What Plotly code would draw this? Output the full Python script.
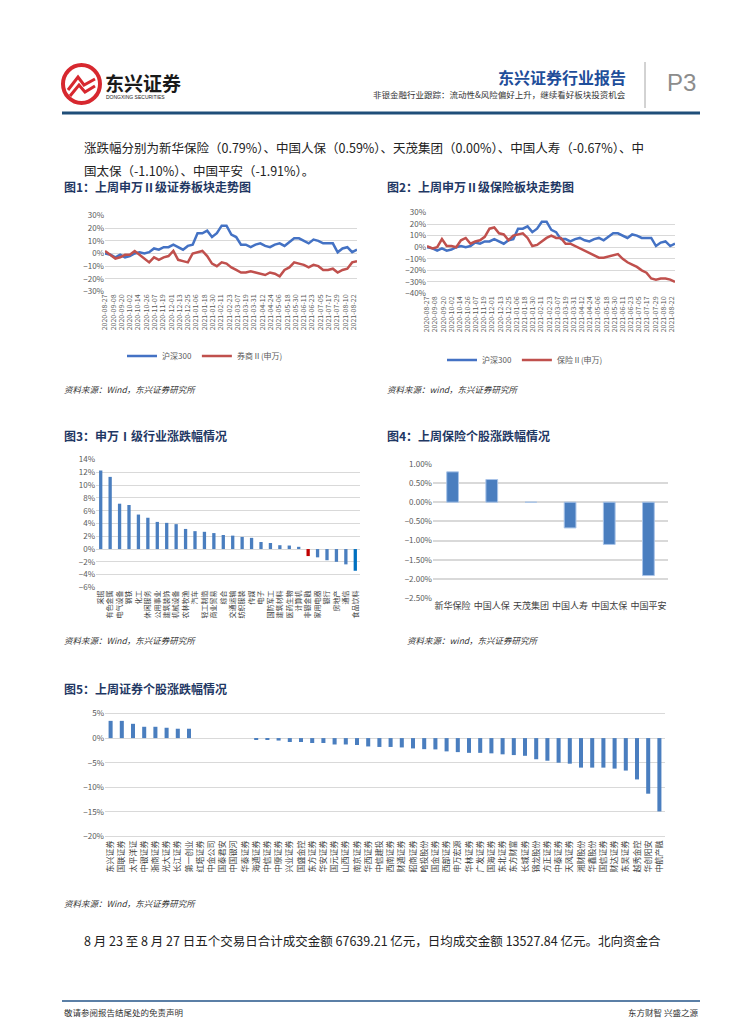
import plotly.graph_objects as go
import pandas as pd

W, H = 755, 1024
def px(x): return x / W
def py(y): return 1 - y / H

# ---------------- data ----------------
dates = ["2020-08-27"] + [d.strftime("%Y-%m-%d") for d in pd.date_range("2020-09-04", periods=52, freq="7D")]
hs300 = [0, -1, -3, -1, -3, -2, 0, 1, 0, 1,
         4, 3, 5, 5, 7, 5, 3, 6, 7, 16,
         16, 18, 13, 16, 22, 22, 15, 13, 7, 7,
         5, 7, 8, 6, 5, 7, 8, 6, 9, 12,
         12, 10, 8, 11, 10, 8, 8, 8, 1, 4,
         5, 1, 3]
quanshang = [2, -1, -4, -3, -1, -1, 2, -1, -4, -7,
             -3, -5, -3, -2, 2, -5, -6, -7, 0, 1,
             2, -2, -8, -10, -7, -8, -11, -13, -15, -15,
             -14, -15, -16, -17, -15, -16, -18, -13, -11, -7,
             -8, -9, -11, -9, -10, -13, -13, -12, -15, -13,
             -12, -7, -6]
baoxian = [1, -1, 0, 7, 1, 1, 0, 6, 8, 3,
           5, 6, 9, 16, 17, 12, 11, 6, 10, 11,
           12, 8, 1, 2, 5, 8, 10, 8, 8, 3,
           3, 1, -1, -3, -5, -7, -9, -9, -8, -7,
           -6, -10, -13, -15, -17, -20, -22, -27, -28, -27,
           -27, -28, -30]

ind_names = ["采掘", "有色金属", "电气设备", "钢铁", "化工", "休闲服务", "公用事业", "建筑装饰",
             "机械设备", "农林牧渔", "汽车", "轻工制造", "商业贸易", "综合", "交通运输", "纺织服装",
             "传媒", "电子", "国防军工", "建筑材料", "医药生物", "计算机", "非银金融", "家用电器",
             "银行", "房地产", "通信", "食品饮料"]
ind_vals = [12.3, 11.3, 7.1, 6.9, 5.4, 4.9, 4.25, 4.1, 3.9, 3.15, 2.8, 2.7, 2.5, 2.2, 2.1, 1.9,
            1.75, 1.1, 0.95, 0.6, 0.55, 0.35, -1.1, -1.3, -1.75, -2.0, -2.4, -3.4]

ins_names = ["新华保险", "中国人保", "天茂集团", "中国人寿", "中国太保", "中国平安"]
ins_vals = [0.79, 0.59, 0.00, -0.67, -1.10, -1.91]

sec_names = ["东兴证券", "国联证券", "太平洋证", "中银证券", "浙商证券", "光大证券", "长江证券", "第一创业",
             "红塔证券", "中金公司", "国泰君安", "中国银河", "华泰证券", "海通证券", "中信证券", "中原证券",
             "兴业证券", "国盛金控", "东方证券", "华安证券", "国元证券", "山西证券", "南京证券", "华西证券",
             "中信建投", "西南证券", "财通证券", "招商证券", "哈投股份", "国金证券", "西部证券", "申万宏源",
             "华林证券", "广发证券", "国海证券", "东北证券", "东方财富", "长城证券", "锦龙股份", "方正证券",
             "中泰证券", "天风证券", "湘财股份", "华鑫股份", "国信证券", "财达证券", "东吴证券", "越秀金控",
             "华创阳安", "中航产融"]
sec_vals = [3.5, 3.5, 2.9, 2.3, 2.3, 2.1, 1.9, 1.9,
            0, 0, 0, 0, 0,
            -0.2, -0.2, -0.5, -0.8, -0.8, -1.0, -1.0, -1.3, -1.3, -1.4, -1.7, -1.8, -1.8,
            -1.9, -2.1, -2.25, -2.3, -2.7, -2.85, -3.0, -3.0, -3.1, -3.3, -3.45, -3.6, -4.3, -4.6,
            -5.0, -5.2, -6.0, -6.0, -6.0, -6.2, -6.6, -8.4, -11.3, -14.9]

# ---------------- styles ----------------
BLUE = "#4472C4"
RED = "#C0504D"
BAR = "#4A7EBF"
GRID = "#D9D9D9"
TICK = "#595959"
TITLE = "#1F3864"
FONT = "Noto Sans CJK SC"

fig = go.Figure()

# chart 1
fig.add_trace(go.Scatter(x=dates, y=hs300, mode="lines", name="沪深300",
                         line=dict(color=BLUE, width=2.5), xaxis="x", yaxis="y", legend="legend"))
fig.add_trace(go.Scatter(x=dates, y=quanshang, mode="lines", name="券商Ⅱ(申万)",
                         line=dict(color=RED, width=2.5), xaxis="x", yaxis="y", legend="legend"))
# chart 2
fig.add_trace(go.Scatter(x=dates, y=hs300, mode="lines", name="沪深300",
                         line=dict(color=BLUE, width=2.5), xaxis="x2", yaxis="y2", legend="legend2"))
fig.add_trace(go.Scatter(x=dates, y=baoxian, mode="lines", name="保险Ⅱ(申万)",
                         line=dict(color=RED, width=2.5), xaxis="x2", yaxis="y2", legend="legend2"))
# chart 3
ind_colors = [BAR] * len(ind_names)
ind_colors[ind_names.index("非银金融")] = "#C00000"
ind_colors[-1] = "#0070C0"
fig.add_trace(go.Bar(x=ind_names, y=ind_vals, marker=dict(color=ind_colors, line=dict(width=0)), width=0.35,
                     xaxis="x3", yaxis="y3", showlegend=False))
# chart 4
fig.add_trace(go.Bar(x=ins_names, y=ins_vals, marker=dict(color=BAR, line=dict(color="#A9C4E8", width=1)),
                     width=0.3, xaxis="x4", yaxis="y4", showlegend=False))
# chart 5
fig.add_trace(go.Bar(x=sec_names, y=sec_vals, marker=dict(color=BAR, line=dict(width=0)), width=0.36,
                     xaxis="x5", yaxis="y5", showlegend=False))

date_x = dict(type="date", range=["2020-08-27", "2021-08-27"], tick0="2020-08-27",
              dtick=12 * 86400000, tickformat="%Y-%m-%d", tickangle=-90,
              tickfont=dict(size=7, color=TICK), showgrid=False, showline=False,
              zeroline=False, ticks="", automargin=False)
def yax(**kw):
    d = dict(showgrid=True, gridcolor=GRID, gridwidth=1, zeroline=False, showline=False,
             ticks="", tickfont=dict(size=8, color=TICK), automargin=False)
    d.update(kw)
    return d
cat_x = dict(type="category", showgrid=False, showline=False, zeroline=False, ticks="", automargin=False)

fig.update_layout(
    template="none",
    width=W, height=H, autosize=False,
    margin=dict(l=0, r=0, t=0, b=0, pad=0),
    paper_bgcolor="white", plot_bgcolor="white",
    font=dict(family=FONT, color="#333"),
    xaxis=dict(date_x, domain=[px(105), px(357)], anchor="y"),
    yaxis=yax(domain=[py(292), py(215)], anchor="x", range=[-30.4, 30.4], dtick=10, ticksuffix="%"),
    xaxis2=dict(date_x, domain=[px(427), px(675)], anchor="y2"),
    yaxis2=yax(domain=[py(294), py(212)], anchor="x2", range=[-40.4, 30.4], dtick=10, ticksuffix="%"),
    xaxis3=dict(cat_x, domain=[px(96), px(360)], anchor="y3", tickangle=-90,
                tickfont=dict(size=7, color="#404040")),
    yaxis3=yax(domain=[py(588), py(459)], anchor="x3", range=[-6.1, 14.1], dtick=2, ticksuffix="%"),
    xaxis4=dict(cat_x, domain=[px(433), px(668)], anchor="y4", tickangle=0,
                tickfont=dict(size=9, color="#404040")),
    yaxis4=yax(domain=[py(599), py(463)], anchor="x4", range=[-2.52, 1.02], dtick=0.5,
               tickformat=".2f", ticksuffix="%", gridwidth=1.5),
    xaxis5=dict(cat_x, domain=[px(105), px(665)], anchor="y5", tickangle=-90,
                tickfont=dict(size=8, color="#404040")),
    yaxis5=yax(domain=[py(838), py(712)], anchor="x5", range=[-20.3, 5.3], dtick=5, ticksuffix="%"),
    legend=dict(orientation="h", x=px(205), y=py(356), xanchor="center", yanchor="middle",
                font=dict(size=8, color=TICK), bgcolor="rgba(0,0,0,0)", itemwidth=30),
    legend2=dict(orientation="h", x=px(525), y=py(360), xanchor="center", yanchor="middle",
                 font=dict(size=8, color=TICK), bgcolor="rgba(0,0,0,0)", itemwidth=30),
)

ann = []
def text(x, y, s, size=9, color="#333", xanchor="left", yanchor="middle", family=FONT):
    ann.append(dict(x=px(x), y=py(y), xref="paper", yref="paper", text=s, showarrow=False,
                    xanchor=xanchor, yanchor=yanchor, font=dict(size=size, color=color, family=family)))

# header
text(103, 82, "<b>东兴证券</b>", size=19, color="#1a1a1a")
text(104, 97, "DONGXING SECURITIES", size=5, color="#1a1a1a", family="Liberation Sans")
text(628, 77, "<b>东兴证券行业报告</b>", size=16, color="#1F4E9A", xanchor="right")
text(628, 94, "非银金融行业跟踪：流动性&风险偏好上升，继续看好板块投资机会", size=8.5, color="#333", xanchor="right")
text(665, 82, "P3", size=24, color="#8C8C8C", family="Liberation Sans")

# body text
text(82, 147, "涨跌幅分别为新华保险（0.79%）、中国人保（0.59%）、天茂集团（0.00%）、中国人寿（-0.67%）、中", size=12.5, color="#222")
text(82, 170, "国太保（-1.10%）、中国平安（-1.91%）。", size=12.5, color="#222")

# figure titles
text(62, 186, "<b>图1：上周申万Ⅱ级证券板块走势图</b>", size=12, color=TITLE)
text(385, 186, "<b>图2：上周申万Ⅱ级保险板块走势图</b>", size=12, color=TITLE)
text(62, 435, "<b>图3：申万Ⅰ级行业涨跌幅情况</b>", size=12, color=TITLE)
text(385, 435, "<b>图4：上周保险个股涨跌幅情况</b>", size=12, color=TITLE)
text(62, 688, "<b>图5：上周证券个股涨跌幅情况</b>", size=12, color=TITLE)

# sources
text(62, 389, "<i>资料来源：Wind，东兴证券研究所</i>", size=8.5, color="#333")
text(385, 389, "<i>资料来源：wind，东兴证券研究所</i>", size=8.5, color="#333")
text(62, 640, "<i>资料来源：Wind，东兴证券研究所</i>", size=8.5, color="#333")
text(405, 640, "<i>资料来源：wind，东兴证券研究所</i>", size=8.5, color="#333")
text(62, 903, "<i>资料来源：Wind，东兴证券研究所</i>", size=8.5, color="#333")

text(82, 940, "8 月 23 至 8 月 27 日五个交易日合计成交金额 67639.21 亿元，日均成交金额 13527.84 亿元。北向资金合", size=12.5, color="#222")

# footer
text(62, 1012, "敬请参阅报告结尾处的免责声明", size=8.5, color="#333")
text(700, 1012, "东方财智 兴盛之源", size=8.5, color="#333", xanchor="right")

shapes = []
def line(x0, y0, x1, y1, color, width):
    shapes.append(dict(type="line", xref="paper", yref="paper", x0=px(x0), y0=py(y0),
                       x1=px(x1), y1=py(y1), line=dict(color=color, width=width)))
def path(points, color, width, fill=None):
    d = "M " + " L ".join(f"{px(a):.5f},{py(b):.5f}" for a, b in points)
    if fill:
        d += " Z"
    shapes.append(dict(type="path", xref="paper", yref="paper", path=d,
                       line=dict(color=color, width=width), fillcolor=fill))

line(62, 113, 700, 113, "#1F4E79", 3)
line(645, 62, 645, 108, "#A6A6A6", 1)
line(62, 1001, 700, 1001, "#5B7FA6", 2)

# logo
shapes.append(dict(type="circle", xref="paper", yref="paper", x0=px(63), x1=px(100),
                   y0=py(103), y1=py(65), line=dict(color="#D7282F", width=4), fillcolor="white"))
path([(68, 90), (78, 77), (84, 85), (95, 79)], "#D7282F", 3)
path([(70, 96), (79, 85), (85, 92), (95, 86)], "#D7282F", 3)

fig.update_layout(annotations=ann, shapes=shapes)
fig.write_html("out.html", config={"displayModeBar": False},
               post_script="document.body.style.margin='0';document.body.style.overflow='hidden';")
